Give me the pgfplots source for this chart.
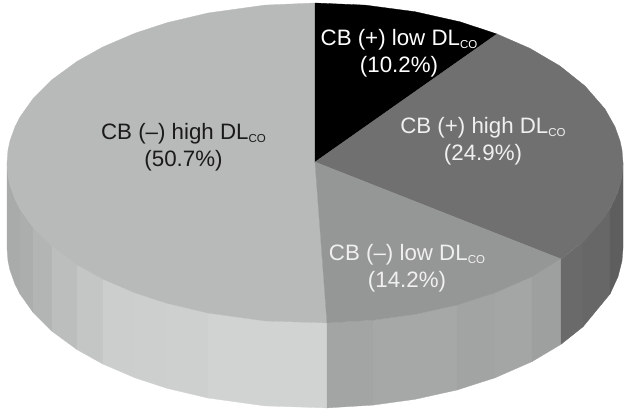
\documentclass[border=0pt]{standalone}
\usepackage{pgfplots}
\pgfplotsset{compat=1.18}
\usepackage{fontspec}
\setmainfont{Liberation Sans}
\newcommand{\co}{\raisebox{-3pt}{\fontsize{11.5}{12}\selectfont CO}}
\definecolor{lighttop}{HTML}{B8B9B9}
\definecolor{midtop}{HTML}{959696}
\definecolor{darktop}{HTML}{707070}
\tikzset{lab/.style={align=center, font=\fontsize{22.3}{27}\selectfont}}
\begin{document}
\begin{tikzpicture}
\begin{axis}[
  scale only axis, width=625pt, height=416pt,
  xmin=0, xmax=625, ymin=0, ymax=416, y dir=reverse,
  hide axis, clip=false,
]
% side facets: light slice
\addplot[fill={rgb,255:red,169;green,170;blue,170}, draw={rgb,255:red,169;green,170;blue,170}, line width=0.3pt] coordinates {(7,163)(8,175.9)(10,185.2)(15,199.2)(20,209)(20,294)(15,284.2)(10,270.2)(8,260.9)(7,248)} --cycle;
\addplot[fill={rgb,255:red,172;green,173;blue,173}, draw={rgb,255:red,172;green,173;blue,173}, line width=0.3pt] coordinates {(20,209)(33,227.3)(33,312.3)(20,294)} --cycle;
\addplot[fill={rgb,255:red,179;green,180;blue,180}, draw={rgb,255:red,179;green,180;blue,180}, line width=0.3pt] coordinates {(33,227.3)(52,246.3)(52,331.3)(33,312.3)} --cycle;
\addplot[fill={rgb,255:red,188;green,189;blue,189}, draw={rgb,255:red,188;green,189;blue,189}, line width=0.3pt] coordinates {(52,246.3)(77,264.6)(77,349.6)(52,331.3)} --cycle;
\addplot[fill={rgb,255:red,196;green,197;blue,197}, draw={rgb,255:red,196;green,197;blue,197}, line width=0.3pt] coordinates {(77,264.6)(103,279.1)(103,364.1)(77,349.6)} --cycle;
\addplot[fill={rgb,255:red,204;green,205;blue,205}, draw={rgb,255:red,204;green,205;blue,205}, line width=0.3pt] coordinates {(103,279.1)(135,292.8)(135,377.8)(103,364.1)} --cycle;
\addplot[fill={rgb,255:red,205;green,206;blue,206}, draw={rgb,255:red,205;green,206;blue,206}, line width=0.3pt] coordinates {(135,292.8)(167,303.3)(167,388.3)(135,377.8)} --cycle;
\addplot[fill={rgb,255:red,206;green,207;blue,207}, draw={rgb,255:red,206;green,207;blue,207}, line width=0.3pt] coordinates {(167,303.3)(208,313)(208,398)(167,388.3)} --cycle;
\addplot[fill={rgb,255:red,209;green,210;blue,210}, draw={rgb,255:red,209;green,210;blue,210}, line width=0.3pt] coordinates {(208,313)(265,320.9)(327,322.9)(327,407.9)(265,405.9)(208,398)} --cycle;
% side facets: mid slice
\addplot[fill={rgb,255:red,163;green,164;blue,164}, draw={rgb,255:red,163;green,164;blue,164}, line width=0.3pt] coordinates {(327,322.9)(373,320.1)(373,405.1)(327,407.9)} --cycle;
\addplot[fill={rgb,255:red,166;green,167;blue,167}, draw={rgb,255:red,166;green,167;blue,167}, line width=0.3pt] coordinates {(373,320.1)(415,314.3)(457,305)(457,390)(415,399.3)(373,405.1)} --cycle;
\addplot[fill={rgb,255:red,162;green,163;blue,163}, draw={rgb,255:red,162;green,163;blue,163}, line width=0.3pt] coordinates {(457,305)(495,292.8)(495,377.8)(457,390)} --cycle;
\addplot[fill={rgb,255:red,164;green,165;blue,165}, draw={rgb,255:red,164;green,165;blue,165}, line width=0.3pt] coordinates {(495,292.8)(532,276.6)(532,361.6)(495,377.8)} --cycle;
\addplot[fill={rgb,255:red,158;green,159;blue,159}, draw={rgb,255:red,158;green,159;blue,159}, line width=0.3pt] coordinates {(532,276.6)(561,259.3)(561,344.3)(532,361.6)} --cycle;
% side facets: dark slice
\addplot[fill={rgb,255:red,106;green,106;blue,106}, draw={rgb,255:red,106;green,106;blue,106}, line width=0.3pt] coordinates {(561,259.3)(583,241.8)(583,326.8)(561,344.3)} --cycle;
\addplot[fill={rgb,255:red,103;green,103;blue,103}, draw={rgb,255:red,103;green,103;blue,103}, line width=0.3pt] coordinates {(583,241.8)(610,209)(610,294)(583,326.8)} --cycle;
\addplot[fill={rgb,255:red,94;green,94;blue,94}, draw={rgb,255:red,94;green,94;blue,94}, line width=0.3pt] coordinates {(610,209)(618,191.7)(622,175.9)(623,163)(623,248)(622,260.9)(618,276.7)(610,294)} --cycle;
% top slices
\addplot[fill=lighttop, draw=lighttop, line width=0.3pt] coordinates {(315,162)(315,3)(265,5.1)(208,13)(167,22.7)(135,33.2)(103,46.9)(77,61.4)(52,79.7)(33,98.7)(20,117)(15,126.8)(10,140.8)(8,150.1)(7,163)(8,175.9)(10,185.2)(15,199.2)(20,209)(33,227.3)(52,246.3)(77,264.6)(103,279.1)(135,292.8)(167,303.3)(208,313)(265,320.9)(327,322.9)} --cycle;
\addplot[fill=black, draw=black, line width=0.3pt] coordinates {(315,162)(315,3)(365,5.1)(415,11.7)(460,21.8)(497,34)} --cycle;
\addplot[fill=darktop, draw=darktop, line width=0.3pt] coordinates {(315,162)(497,34)(530,48.4)(560,66)(585,86)(605,109)(615,126.8)(620,140.8)(622,150.1)(623,163)(622,175.9)(620,185.2)(615,199.2)(605,216.9)(585,240)(561,259)} --cycle;
\addplot[fill=midtop, draw=midtop, line width=0.3pt] coordinates {(315,162)(561,259)(532,276.6)(495,292.8)(457,305)(415,314.3)(373,320.1)(327,322.9)} --cycle;
% frame of the picture, invisible
\addplot[draw=none] coordinates {(0,0)(625,416)};
% labels
\node[lab, text={rgb,255:red,26;green,26;blue,26}] at (axis cs:183.5,147) {CB (–) high DL\co\\(50.7\%)};
\node[lab, text=white] at (axis cs:399,53) {CB (+) low DL\co\\(10.2\%)};
\node[lab, text={rgb,255:red,240;green,240;blue,240}] at (axis cs:483,141) {CB (+) high DL\co\\(24.9\%)};
\node[lab, text={rgb,255:red,240;green,240;blue,240}] at (axis cs:407,268) {CB (–) low DL\co\\(14.2\%)};
\end{axis}
\end{tikzpicture}
\end{document}
